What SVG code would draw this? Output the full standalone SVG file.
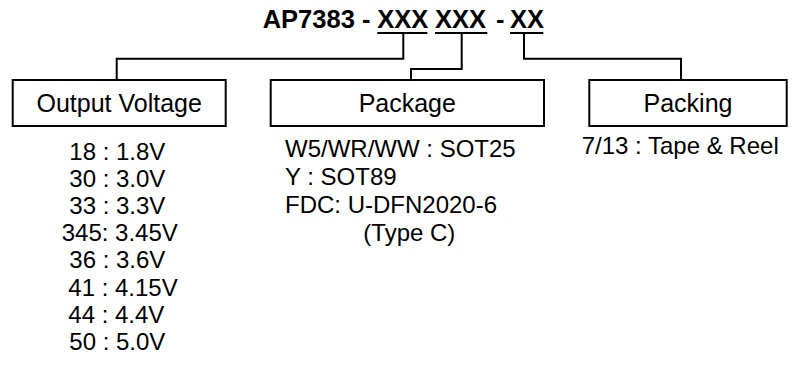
<svg xmlns="http://www.w3.org/2000/svg" width="800" height="383" viewBox="0 0 800 383">
<style>
text{font-family:"Liberation Sans",Arial,sans-serif;fill:#000}
.title{font-size:25.5px;font-weight:bold}
.lbl{font-size:25px;text-anchor:middle}
.body{font-size:24px}
.box{fill:#fff;stroke:#000;stroke-width:2}
.ln{fill:none;stroke:#000;stroke-width:2}
</style>
<rect width="800" height="383" fill="#fff"/>
<g id="title">
<text class="title" y="28"><tspan x="262.7">AP7383 -</tspan><tspan x="377.3">XXX</tspan><tspan x="435">XXX</tspan><tspan x="496">-</tspan><tspan x="510">XX</tspan></text>
<line class="ln" x1="377.3" y1="33" x2="427.3" y2="33"/>
<line class="ln" x1="435" y1="33" x2="487.3" y2="33"/>
<line class="ln" x1="510" y1="33" x2="543.3" y2="33"/>
</g>
<g id="connectors">
<path class="ln" d="M403.3,33 V58.7 H116.7 V80"/>
<path class="ln" d="M461.7,33 V69 H411 V80"/>
<path class="ln" d="M524,33 V58.7 H681 V80"/>
</g>
<g id="output-voltage">
<rect class="box" x="12.7" y="80" width="213" height="46"/>
<text class="lbl" x="119.2" y="112">Output Voltage</text>
<text class="body" x="69.3" y="160">18 : 1.8V</text>
<text class="body" x="69.3" y="187">30 : 3.0V</text>
<text class="body" x="69.3" y="214">33 : 3.3V</text>
<text class="body" x="61.7" y="241">345: 3.45V</text>
<text class="body" x="69.3" y="268">36 : 3.6V</text>
<text class="body" x="68.3" y="295.5">41 : 4.15V</text>
<text class="body" x="68.3" y="322.5">44 : 4.4V</text>
<text class="body" x="69.3" y="349.5">50 : 5.0V</text>
</g>
<g id="package">
<rect class="box" x="270.7" y="80" width="273.3" height="46"/>
<text class="lbl" x="407.3" y="112">Package</text>
<text class="body" x="285" y="157">W5/WR/WW : SOT25</text>
<text class="body" x="285" y="185">Y : SOT89</text>
<text class="body" x="285" y="213">FDC: U-DFN2020-6</text>
<text class="body" x="363.3" y="241">(Type C)</text>
</g>
<g id="packing">
<rect class="box" x="589.3" y="80" width="197.4" height="46"/>
<text class="lbl" x="688" y="112">Packing</text>
<text class="body" x="581.7" y="154">7/13 : Tape &amp; Reel</text>
</g>
</svg>
